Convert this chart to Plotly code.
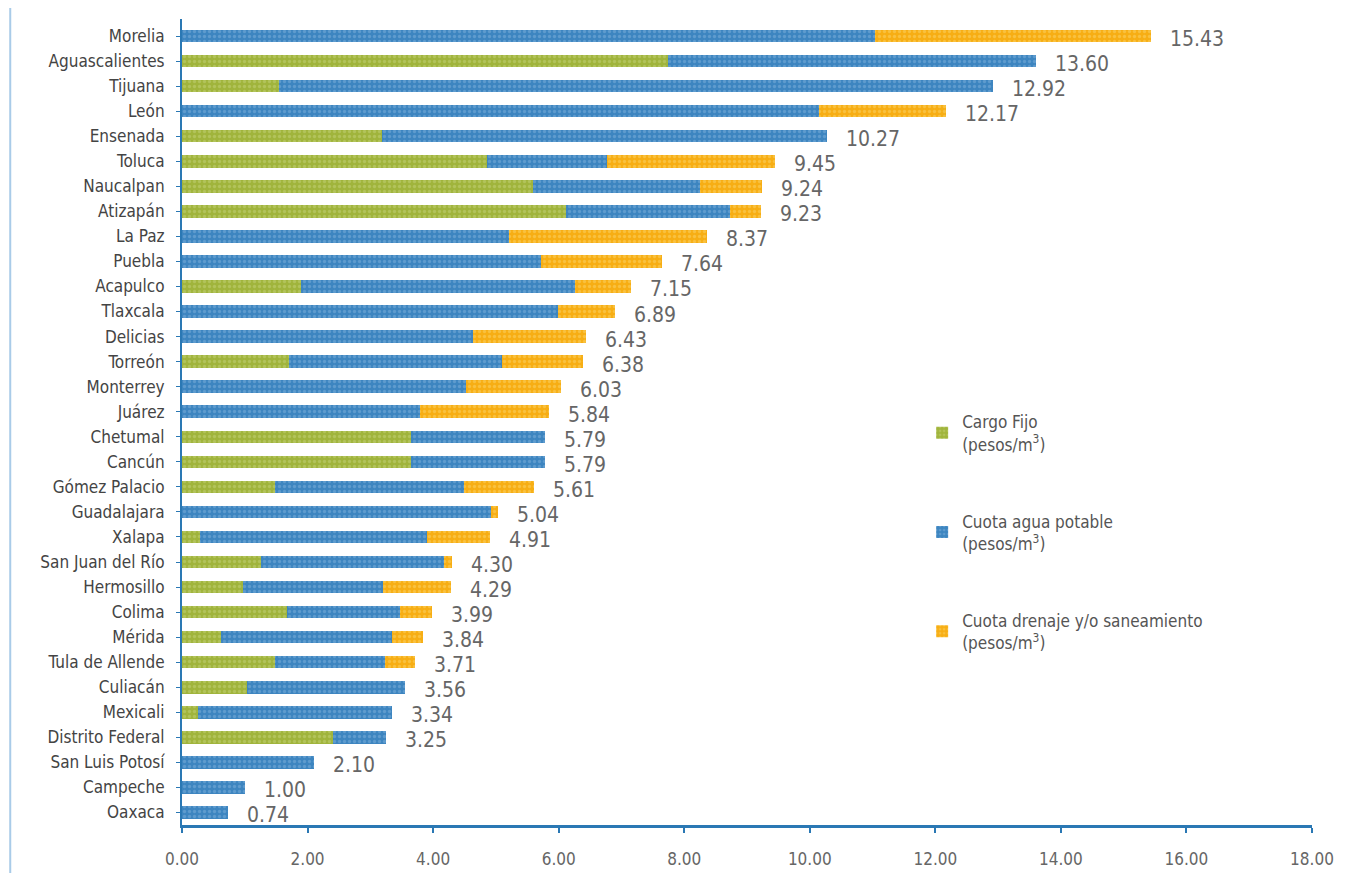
import plotly.graph_objects as go

cities = ["Morelia", "Aguascalientes", "Tijuana", "León", "Ensenada", "Toluca",
          "Naucalpan", "Atizapán", "La Paz", "Puebla", "Acapulco", "Tlaxcala",
          "Delicias", "Torreón", "Monterrey", "Juárez", "Chetumal", "Cancún",
          "Gómez Palacio", "Guadalajara", "Xalapa", "San Juan del Río", "Hermosillo",
          "Colima", "Mérida", "Tula de Allende", "Culiacán", "Mexicali",
          "Distrito Federal", "San Luis Potosí", "Campeche", "Oaxaca"]

cargo_fijo = [0, 7.74, 1.54, 0, 3.18, 4.86, 5.59, 6.11, 0, 0, 1.89, 0,
              0, 1.70, 0, 0, 3.65, 3.65, 1.48, 0, 0.29, 1.26, 0.97,
              1.67, 0.62, 1.48, 1.04, 0.25, 2.40, 0, 0, 0]
agua_potable = [11.04, 5.86, 11.38, 10.14, 7.09, 1.91, 2.66, 2.62, 5.21, 5.72, 4.37, 5.99,
                4.63, 3.40, 4.52, 3.79, 2.14, 2.14, 3.01, 4.92, 3.61, 2.91, 2.23,
                1.80, 2.72, 1.75, 2.52, 3.09, 0.85, 2.10, 1.00, 0.74]
drenaje = [4.39, 0, 0, 2.03, 0, 2.68, 0.99, 0.50, 3.16, 1.92, 0.89, 0.90,
           1.80, 1.28, 1.51, 2.05, 0, 0, 1.12, 0.12, 1.01, 0.13, 1.09,
           0.52, 0.50, 0.48, 0, 0, 0, 0, 0, 0]
totales = [15.43, 13.60, 12.92, 12.17, 10.27, 9.45, 9.24, 9.23, 8.37, 7.64, 7.15, 6.89,
           6.43, 6.38, 6.03, 5.84, 5.79, 5.79, 5.61, 5.04, 4.91, 4.30, 4.29,
           3.99, 3.84, 3.71, 3.56, 3.34, 3.25, 2.10, 1.00, 0.74]

series = [
    ("Cargo Fijo<br>(pesos/m<sup>3</sup>)", cargo_fijo, "#a0b43c", "#c4d27a"),
    ("Cuota agua potable<br>(pesos/m<sup>3</sup>)", agua_potable, "#3d85c0", "#7fb2dc"),
    ("Cuota drenaje y/o saneamiento<br>(pesos/m<sup>3</sup>)", drenaje, "#f7ae14", "#fbd36a"),
]

fig = go.Figure()
for i, (name, vals, col, dots) in enumerate(series):
    fig.add_trace(go.Bar(
        y=cities, x=vals, name=name, orientation="h",
        legendgroup=str(i),
        marker=dict(color=col, line=dict(width=0),
                    pattern=dict(shape=".", fgcolor=dots, size=5, solidity=0.35)),
    ))

# total labels at the end of each bar
for c, t in zip(cities, totales):
    fig.add_annotation(x=t, y=c, text=f"{t:.2f}", showarrow=False,
                       xanchor="left", xshift=17, yshift=-3,
                       font=dict(size=21, color="#666666"))

fig.add_shape(type="line", xref="paper", yref="paper", x0=-0.152, x1=-0.152,
              y0=-0.06, y1=1.03, line=dict(color="#a9cbe8", width=2))

fig.update_layout(
    barmode="stack",
    bargap=0.5,
    width=1355, height=865,
    margin=dict(l=174, r=51, t=11, b=48),
    plot_bgcolor="white", paper_bgcolor="white",
    font=dict(family="Liberation Sans Narrow, DejaVu Sans Condensed, sans-serif",
              size=16, color="#444444"),
    legend=dict(x=0.655, y=0.522, xanchor="left", yanchor="top",
                tracegroupgap=52, font=dict(size=17, color="#555555"),
                bgcolor="rgba(0,0,0,0)"),
    xaxis=dict(range=[0, 18], dtick=2, tickformat=".2f", showgrid=False,
               zeroline=False, showline=True, linecolor="#2a78b4", linewidth=3,
               ticks="outside", tickcolor="#2a78b4", ticklen=5, tickwidth=2,
               ticklabelstandoff=12, automargin=False,
               tickfont=dict(size=17, color="#666666")),
    yaxis=dict(autorange="reversed", showgrid=False, showline=True,
               linecolor="#2a78b4", linewidth=2, ticks="outside",
               tickcolor="#2a78b4", ticklen=4, ticklabelstandoff=8,
               tickfont=dict(size=17, color="#444444")),
)

fig.write_html("out.html")
